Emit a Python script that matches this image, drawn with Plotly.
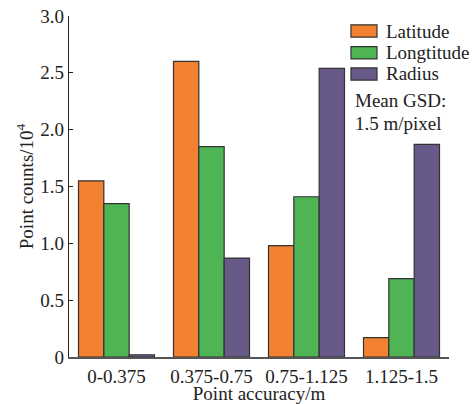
import plotly.graph_objects as go

categories = ["0-0.375", "0.375-0.75", "0.75-1.125", "1.125-1.5"]
latitude = [1.55, 2.60, 0.98, 0.17]
longtitude = [1.35, 1.85, 1.41, 0.69]
radius = [0.02, 0.87, 2.54, 1.87]
series_names = ["Latitude", "Longtitude", "Radius"]
colors = ["#F28131", "#4EB454", "#675A88"]
ytick_vals = [0, 0.5, 1.0, 1.5, 2.0, 2.5, 3.0]
ytick_text = ["0", "0.5", "1.0", "1.5", "2.0", "2.5", "3.0"]
note_lines = ["Mean GSD:", "1.5 m/pixel"]

font = "Liberation Serif, Times New Roman, serif"
fs = 19
txt = "#222222"

fig = go.Figure()
for name, vals, c in zip(series_names, [latitude, longtitude, radius], colors):
    fig.add_trace(go.Bar(x=categories, y=vals, name=name, showlegend=False,
                         marker=dict(color=c, line=dict(color="#333333", width=1.2))))

fig.update_layout(
    width=476, height=404,
    margin=dict(l=69, r=27, t=16, b=47),
    paper_bgcolor="white", plot_bgcolor="white",
    barmode="group", bargap=0.2, bargroupgap=0,
    font=dict(family=font, size=fs, color=txt),
    showlegend=False,
    xaxis=dict(showline=True, linecolor="#555555", linewidth=1.5, ticks="",
               range=[-0.5, 3.5], tickfont=dict(size=fs), automargin=False,
               ticklabelstandoff=1,
               title=dict(text="Point accuracy/m", standoff=3, font=dict(size=fs))),
    yaxis=dict(range=[0, 3.0], showline=True, linecolor="#222222", linewidth=1.2,
               ticks="inside", ticklen=4, tickcolor="#222222", automargin=False,
               ticklabeloverflow="allow",
               tickvals=ytick_vals, ticktext=ytick_text, showgrid=False, zeroline=False,
               tickfont=dict(size=fs),
               title=dict(text="Point counts/10<sup>4</sup>", standoff=1, font=dict(size=fs))),
)

# manual legend (wide swatches, tight spacing as in the reference)
row_y = [0.956, 0.892, 0.830]
half_h = 0.018
for name, c, yc in zip(series_names, colors, row_y):
    fig.add_shape(type="rect", xref="paper", yref="paper",
                  x0=0.742, x1=0.8105, y0=yc - half_h, y1=yc + half_h,
                  fillcolor=c, line=dict(color="#333333", width=1.2))
    fig.add_annotation(x=0.829, y=yc, xref="paper", yref="paper", xanchor="left",
                       yanchor="middle", text=name, showarrow=False,
                       font=dict(size=fs, family=font, color=txt))

note_y = [0.753, 0.686]
for line, yc in zip(note_lines, note_y):
    fig.add_annotation(x=0.747, y=yc, xref="paper", yref="paper", xanchor="left",
                       yanchor="middle", text=line, showarrow=False,
                       font=dict(size=fs, family=font, color=txt))

fig.write_html("out.html", config={"displayModeBar": False},
               post_script="document.body.style.margin='0px';")
